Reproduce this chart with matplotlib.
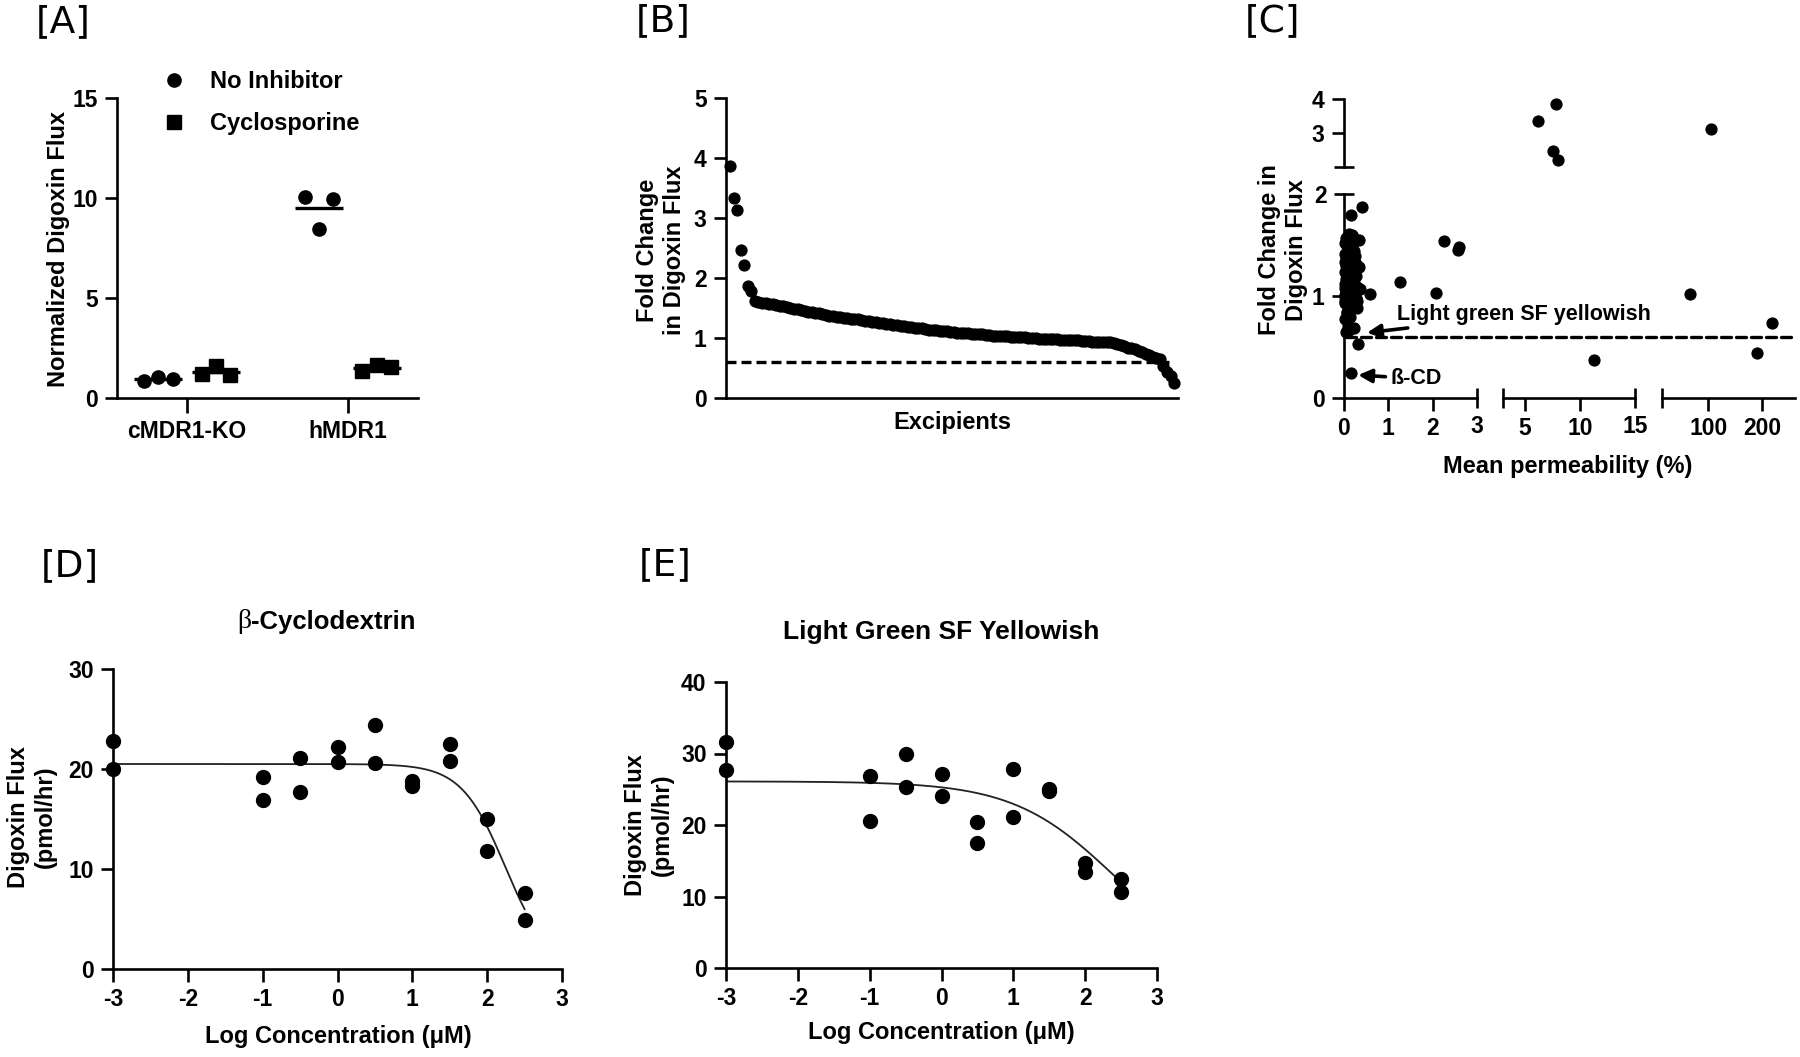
import numpy as np
import matplotlib
matplotlib.use('Agg')
import matplotlib.pyplot as plt
from matplotlib.transforms import blended_transform_factory

# ---------------- data ----------------
# [A] normalized digoxin flux
cell_lines = ['cMDR1-KO', 'hMDR1']
a_no_inhibitor = [[0.87, 1.03, 0.95], [10.05, 8.45, 9.95]]
a_cyclosporine = [[1.22, 1.58, 1.17], [1.37, 1.67, 1.53]]

# [B] fold change of every excipient, ranked
fold_change = [3.86, 3.34, 3.13, 2.46, 2.22, 1.87, 1.79, 1.61, 1.60, 1.59,
               1.58, 1.57, 1.56, 1.55, 1.54, 1.53, 1.52, 1.50, 1.49, 1.48,
               1.47, 1.45, 1.44, 1.43, 1.42, 1.41, 1.40, 1.39, 1.37, 1.36,
               1.35, 1.35, 1.34, 1.33, 1.32, 1.31, 1.31, 1.30, 1.29, 1.28,
               1.27, 1.26, 1.25, 1.25, 1.24, 1.23, 1.22, 1.21, 1.20, 1.20,
               1.19, 1.18, 1.17, 1.17, 1.16, 1.15, 1.14, 1.14, 1.13, 1.12,
               1.11, 1.11, 1.10, 1.10, 1.09, 1.09, 1.08, 1.08, 1.07, 1.07,
               1.06, 1.06, 1.05, 1.05, 1.04, 1.04, 1.04, 1.03, 1.03, 1.02,
               1.02, 1.02, 1.01, 1.01, 1.00, 1.00, 1.00, 0.99, 0.99, 0.99,
               0.98, 0.98, 0.98, 0.97, 0.97, 0.97, 0.96, 0.96, 0.96, 0.95,
               0.95, 0.95, 0.94, 0.94, 0.94, 0.93, 0.93, 0.93, 0.92, 0.90,
               0.88, 0.86, 0.84, 0.83, 0.81, 0.79, 0.77, 0.74, 0.71, 0.69,
               0.67, 0.65, 0.53, 0.44, 0.37, 0.25]
cutoff = 0.6

# [C] mean permeability (%) of the same excipients, same order
permeability = [7.8, 6.2, 105, 7.5, 8.0, 0.40, 0.16, 0.12, 0.18, 0.08,
                0.21, 0.05, 0.14, 0.33, 2.25, 0.10, 0.03, 0.19, 0.07, 2.59,
                0.13, 2.58, 0.22, 0.06, 0.15, 0.02, 0.11, 0.25, 0.04, 0.17,
                0.09, 0.13, 0.20, 0.03, 0.12, 0.07, 0.28, 0.16, 0.05, 0.34,
                0.18, 0.10, 0.08, 0.14, 0.02, 0.21, 0.11, 0.06, 0.16, 0.26,
                0.09, 0.13, 0.04, 0.19, 0.10, 0.07, 1.26, 0.15, 0.22, 0.03,
                0.12, 0.08, 0.18, 0.05, 0.30, 0.14, 0.10, 0.02, 0.37, 0.07,
                0.16, 0.11, 0.24, 0.04, 0.13, 0.09, 0.19, 2.08, 0.06, 67,
                0.59, 0.12, 0.03, 0.17, 0.08, 0.21, 0.05, 0.14, 0.10, 0.02,
                0.27, 0.07, 0.15, 0.04, 0.11, 0.19, 0.06, 0.09, 0.13, 0.03,
                0.30, 0.08, 0.16, 0.05, 0.12, 0.10, 0.02, 0.18, 0.07, 0.14,
                0.30, 0.11, 0.06, 0.06, 0.09, 0.13, 0.03, 217, 0.08, 0.22,
                0.12, 0.05, 0.32, 190, 11.3, 0.16]

# [D] / [E] concentration response
log_conc = [-3, -3, -1, -1, -0.5, -0.5, 0, 0, 0.5, 0.5, 1, 1, 1.5, 1.5, 2, 2, 2.5, 2.5]
flux_bcd = [22.8, 20.0, 19.2, 16.9, 21.1, 17.7, 22.2, 20.7, 24.4, 20.6,
            18.8, 18.3, 22.5, 20.8, 15.0, 11.8, 7.6, 4.9]
flux_lgsf = [31.6, 27.7, 26.9, 20.5, 30.0, 25.3, 27.1, 24.0, 20.4, 17.5,
             27.8, 21.1, 25.0, 24.7, 14.7, 13.4, 12.4, 10.6]
# four-parameter fits: top, bottom, logIC50, hill slope
fit_bcd = (20.5, 0.0, 2.24, 1.48)
fit_lgsf = (26.1, 0.0, 2.39, 0.62)

# ---------------- figure ----------------
plt.rcParams['font.family'] = ['Liberation Sans', 'DejaVu Sans']
plt.rcParams['font.weight'] = 'bold'
plt.rcParams['axes.unicode_minus'] = False

W, H = 1800, 1057
LW = 1.9
TICK = 16.5
LAB = 17
DASH = dict(color='black', lw=2.4, ls=(0, (3, 1.5)), dash_capstyle='round')
fig = plt.figure(figsize=(W / 100, H / 100), dpi=100)


def add_ax(left, top, right, bottom):
    return fig.add_axes([left / W, 1 - bottom / H, (right - left) / W, (bottom - top) / H])


def style(ax, left=True, bottom=True):
    for s in ['top', 'right']:
        ax.spines[s].set_visible(False)
    ax.spines['left'].set_visible(left)
    ax.spines['bottom'].set_visible(bottom)
    for s in ['left', 'bottom']:
        ax.spines[s].set_linewidth(LW)
    ax.tick_params(which='both', width=LW, length=9, labelsize=TICK, pad=5)
    ax.patch.set_alpha(0)


def ftext(x, y, s, **kw):
    return fig.text(x / W, 1 - y / H, s, **kw)


for lab, x, y in [('[A]', 63, 22), ('[B]', 663, 21), ('[C]', 1273, 21), ('[D]', 70, 566), ('[E]', 665, 565)]:
    ftext(x, y, lab, family='DejaVu Sans', weight='normal', fontsize=27, ha='center', va='center')

# ---- [A] ----
ax = add_ax(117, 98, 418, 398)
style(ax)
for i in range(len(cell_lines)):
    for vals, off, mk in [(a_no_inhibitor[i], -0.18, 'o'), (a_cyclosporine[i], 0.18, 's')]:
        xs = i + off + np.array([-0.09, 0, 0.09])
        ax.plot(xs, vals, mk, color='black', ms=9.5, clip_on=False, zorder=3)
        ax.hlines(np.mean(vals), i + off - 0.15, i + off + 0.15, color='black', lw=2.4, zorder=3)
ax.plot([], [], 'o', color='black', ms=9.5, label='No Inhibitor')
ax.plot([], [], 's', color='black', ms=9.5, label='Cyclosporine')
ax.legend(loc='upper left', bbox_to_anchor=(0.12, 1.125), frameon=False, fontsize=LAB,
          handlelength=1.0, handletextpad=1.0, labelspacing=0.8, borderaxespad=0)
ax.set_xlim(-0.435, 1.435)
ax.set_ylim(0, 15)
ax.set_yticks([0, 5, 10, 15])
ax.set_xticks([0, 1], cell_lines)
ax.tick_params(axis='x', length=11)
ftext(59, 249, 'Normalized Digoxin Flux', rotation=90, fontsize=LAB, ha='center', va='center')

# ---- [B] ----
ax = add_ax(726, 98, 1178, 398)
style(ax)
idx = np.arange(len(fold_change))
ax.plot(idx, fold_change, 'o', color='black', ms=7.8, clip_on=False, zorder=3)
ax.hlines(cutoff, -1.2, len(fold_change) - 2.5, **{k: v for k, v in DASH.items() if k not in ('ls', 'dash_capstyle')},
          linestyles=DASH['ls'])
ax.set_xlim(-1.13, len(fold_change) + 0.1)
ax.set_ylim(0, 5)
ax.set_yticks(range(6))
ax.set_xticks([])
ftext(952, 423, 'Excipients', fontsize=LAB, ha='center', va='center')
ftext(661, 250, 'Fold Change\nin Digoxin Flux', rotation=90, fontsize=LAB, ha='center', va='center',
      multialignment='center')

# ---- [C] broken axes ----
perm = np.array(permeability)
fc = np.array(fold_change)
xcols = [(1344, 1477, (0, 3)), (1503, 1635, (3, 15)), (1662, 1795, (15, 260))]
lo_axes, hi_axes = [], []
for j, (l, r, xl) in enumerate(xcols):
    lo = add_ax(l, 194, r, 398)
    hi = add_ax(l, 99, r, 167)
    for a, yl in [(lo, (0, 2)), (hi, (2, 4))]:
        a.set_xlim(*xl)
        a.set_ylim(*yl)
        m = (perm >= xl[0]) & (perm <= xl[1]) & (fc >= yl[0]) & (fc < yl[1])
        a.plot(perm[m], fc[m], 'o', color='black', ms=7.8, clip_on=False, zorder=3)
    style(lo, left=(j == 0))
    style(hi, left=(j == 0), bottom=False)
    hi.set_xticks([])
    if j > 0:
        lo.set_yticks([])
        hi.set_yticks([])
    lo_axes.append(lo)
    hi_axes.append(hi)

c0, c1, c2 = lo_axes
c0.set_yticks([0, 1])
c0.set_yticks([2], ['2'], minor=True)
c0.set_xticks([0, 1, 2])
c0.set_xticks([3], ['3'], minor=True)
c1.set_xticks([5, 10])
c1.set_xticks([3, 15], ['', '15'], minor=True)
c2.set_xticks([100, 200])
c2.set_xticks([15], [''], minor=True)
hi_axes[0].set_yticks([3, 4])
hi_axes[0].set_yticks([2], [''], minor=True)
for a in lo_axes + hi_axes[:1]:
    a.tick_params(which='minor', direction='inout', length=14)

tr = blended_transform_factory(fig.transFigure, c0.transData)
c0.plot([1346 / W, 1795 / W], [cutoff, cutoff], transform=tr, clip_on=False, **DASH)

arrow = dict(arrowstyle='-|>', color='black', lw=2.6, mutation_scale=20, shrinkA=2, shrinkB=0)
c0.annotate('Light green SF yellowish', xy=(0.52, 0.64), xytext=(1.2, 0.82),
            fontsize=15.5, va='center', ha='left', annotation_clip=False, arrowprops=arrow)
c0.annotate('ß-CD', xy=(0.32, 0.225), xytext=(1.06, 0.19),
            fontsize=15.5, va='center', ha='left', annotation_clip=False, arrowprops=arrow)
ftext(1568, 466, 'Mean permeability (%)', fontsize=LAB, ha='center', va='center')
ftext(1283, 250, 'Fold Change in\nDigoxin Flux', rotation=90, fontsize=LAB, ha='center', va='center',
      multialignment='center')


# ---- [D] and [E] ----
def response_panel(box, flux, fit, ymax, xlab_xy, ylab_xy):
    ax = add_ax(*box)
    style(ax)
    ax.plot(log_conc, flux, 'o', color='black', ms=10, clip_on=False, zorder=3)
    top, bottom, logic50, hill = fit
    xs = np.linspace(min(log_conc), max(log_conc), 300)
    ax.plot(xs, bottom + (top - bottom) / (1 + 10 ** ((xs - logic50) * hill)), color='#222222', lw=1.3)
    ax.set_xlim(-3, 3)
    ax.set_ylim(0, ymax)
    ax.set_xticks(range(-3, 4))
    ax.set_yticks(range(0, ymax + 1, 10))
    ftext(*xlab_xy, 'Log Concentration (\u03bcM)', fontsize=LAB, ha='center', va='center')
    ftext(*ylab_xy, 'Digoxin Flux\n(pmol/hr)', rotation=90, fontsize=LAB, ha='center', va='center',
          multialignment='center')
    return ax


response_panel((113, 669, 562, 969), flux_bcd, fit_bcd, 30, (338, 1037), (32, 817))
ftext(251, 622, '\u03b2', family='Liberation Serif', weight='normal', fontsize=20, ha='right', va='center')
ftext(251, 622, '-Cyclodextrin', fontsize=18.5, ha='left', va='center')

response_panel((726, 682, 1157, 968), flux_lgsf, fit_lgsf, 40, (941, 1033), (649, 825))
ftext(941, 632, 'Light Green SF Yellowish', fontsize=19, ha='center', va='center')

fig.savefig('out.png', dpi=100, facecolor='white')
